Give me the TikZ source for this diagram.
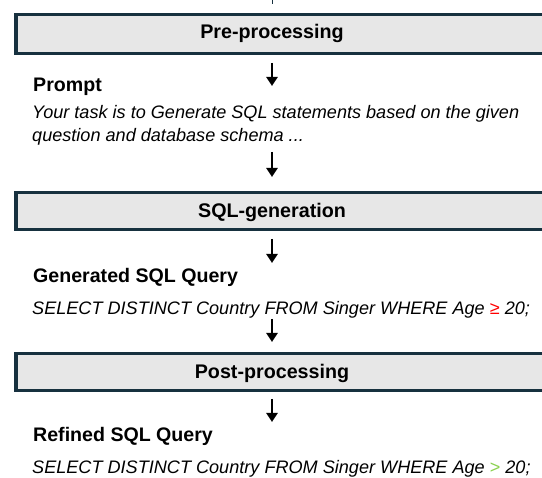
\documentclass[tikz,border=0pt]{standalone}
\usepackage{fontspec}
\setmainfont{Liberation Sans}
\usetikzlibrary{arrows.meta}
\definecolor{boxedge}{HTML}{17313F}
\definecolor{boxfill}{HTML}{E7E7E7}
\definecolor{badop}{HTML}{FF0000}
\definecolor{goodop}{HTML}{8BD14F}
\tikzset{
  stagebox/.style={draw=boxedge, line width=3.2pt, fill=boxfill},
  stagelabel/.style={inner sep=0pt, anchor=base, font=\fontsize{19.7}{22}\selectfont\bfseries},
  headtext/.style={inner sep=0pt, anchor=base west, font=\fontsize{19.6}{22}\selectfont\bfseries},
  bodytext/.style={inner sep=0pt, anchor=base west, align=left, font=\fontsize{18.1}{23}\selectfont\itshape},
  flowarrow/.style={line width=2.6pt, -{Triangle[width=11pt,length=9pt]}},
}
\begin{document}
\begin{tikzpicture}[x=1pt,y=-1pt]
\useasboundingbox (0,0) rectangle (542,478);
\clip (0,0) rectangle (542,478);
% stage boxes
\node[stagebox, anchor=north west, minimum width=560pt, minimum height=38.4pt, inner sep=0pt] (prebox) at (14.3,13.3) {};
\node[stagebox, anchor=north west, minimum width=560pt, minimum height=37.6pt, inner sep=0pt] (genbox) at (14.3,190.7) {};
\node[stagebox, anchor=north west, minimum width=560pt, minimum height=37.6pt, inner sep=0pt] (postbox) at (14.3,351.7) {};
\node[stagelabel] (prelabel) at (272,38.5) {Pre-processing};
\node[stagelabel] (genlabel) at (272,217.5) {SQL-generation};
\node[stagelabel] (postlabel) at (272,378.5) {Post-processing};
% texts
\node[headtext] (prompthead) at (33,92) {Prompt};
\node[bodytext] (prompttext) at (32,142) {Your task is to Generate SQL statements based on the given\\question and database schema ...};
\node[headtext] (genhead) at (33,283) {Generated SQL Query};
\node[bodytext] (gentext) at (32,315) {SELECT DISTINCT Country FROM Singer WHERE Age {\upshape\color{badop}≥} 20;};
\node[headtext] (refhead) at (33,442) {Refined SQL Query};
\node[bodytext] (reftext) at (32,474) {SELECT DISTINCT Country FROM Singer WHERE Age {\upshape\color{goodop}>} 20;};
% connector coordinates
\coordinate (t0) at (272,0);
\coordinate (t1) at (272,4);
\coordinate (a1s) at (272,63);
\coordinate (a1e) at (272,86);
\coordinate (a2s) at (272,152);
\coordinate (a2e) at (272,177);
\coordinate (a3s) at (272,239);
\coordinate (a3e) at (272,263);
\coordinate (a4s) at (272,319);
\coordinate (a4e) at (272,342);
\coordinate (a5s) at (272,399);
\coordinate (a5e) at (272,422);
\draw[line width=1pt, boxedge] (t0) -- (t1);
\draw[flowarrow] (a1s) -- (a1e);
\draw[flowarrow] (a2s) -- (a2e);
\draw[flowarrow] (a3s) -- (a3e);
\draw[flowarrow] (a4s) -- (a4e);
\draw[flowarrow] (a5s) -- (a5e);
\end{tikzpicture}
\end{document}
